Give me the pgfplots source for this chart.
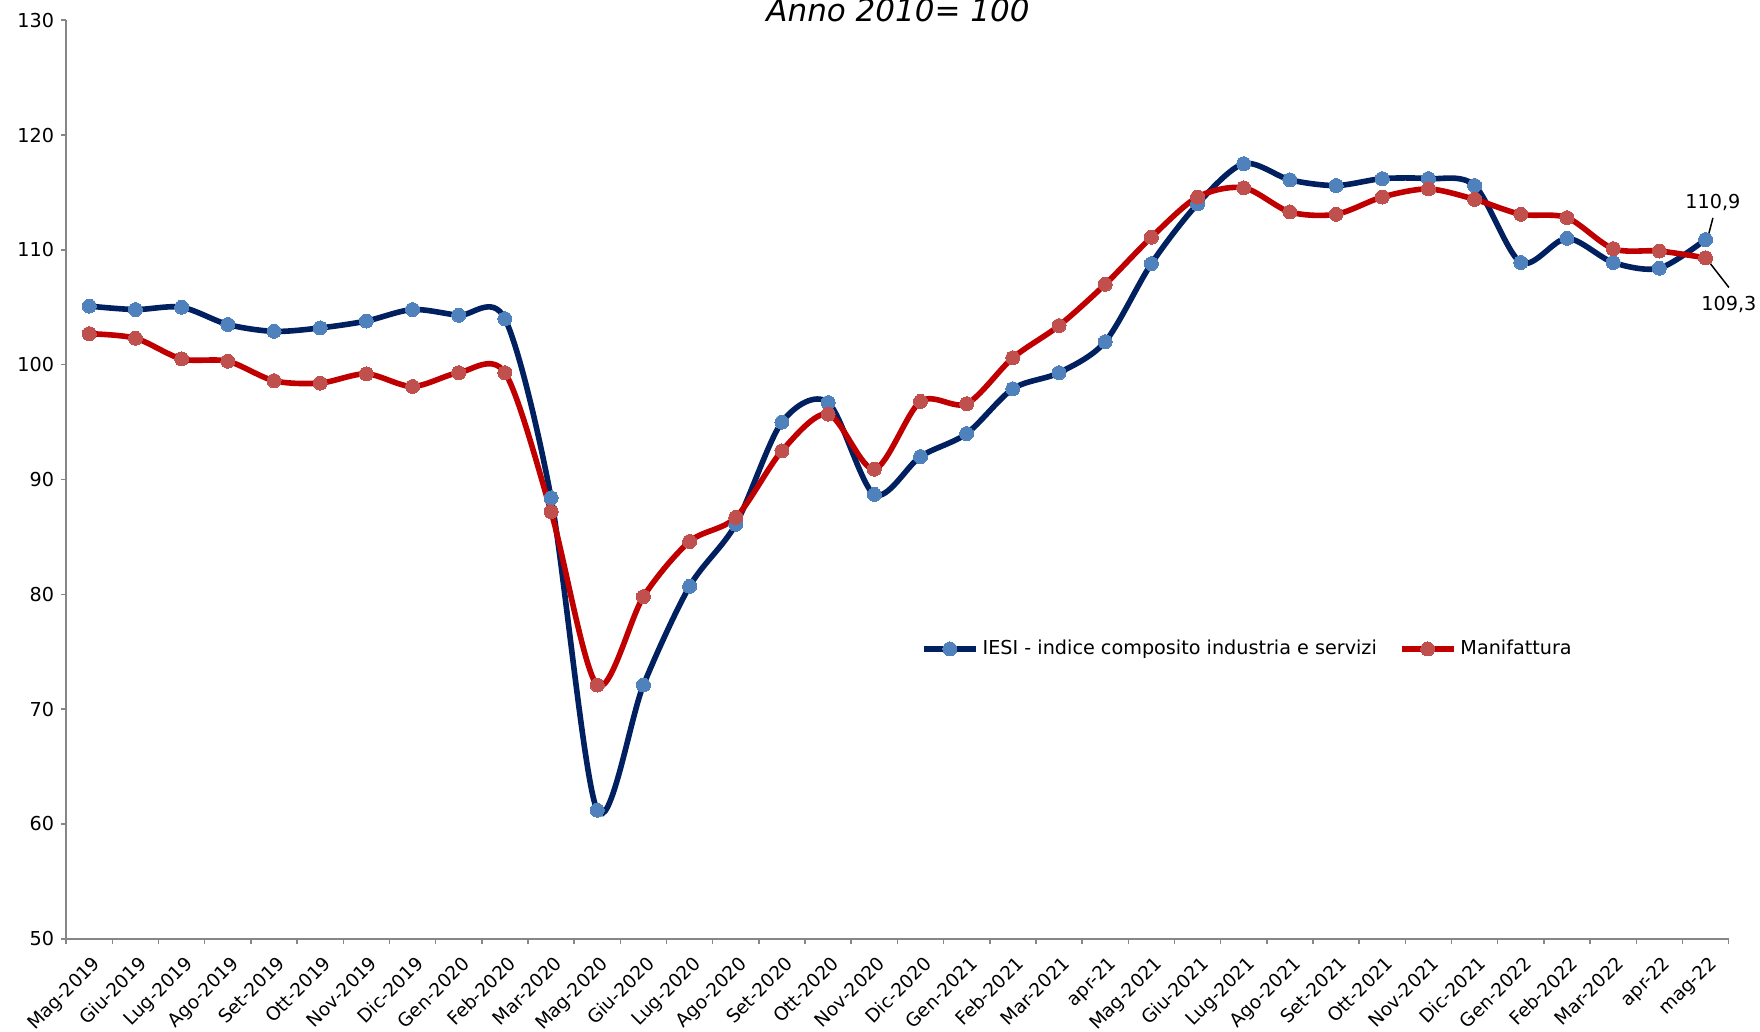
\documentclass[border=0pt]{standalone}
\usepackage{pgfplots}
\pgfplotsset{compat=1.18}
\usepackage{fontspec}
\setmainfont{DejaVu Sans}
\definecolor{blueline}{HTML}{002060}
\definecolor{bluemark}{HTML}{4F81BD}
\definecolor{redline}{HTML}{C00000}
\definecolor{redmark}{HTML}{C0504D}
\definecolor{axisgray}{HTML}{868686}
\newcommand{\tfont}{\fontsize{9.6}{11.5}\selectfont}
\newcommand{\xfont}{\fontsize{9.3}{11}\selectfont}
\begin{document}
\begin{tikzpicture}
\begin{axis}[
  at={(33.1pt,46.6pt)}, anchor=south west,
  scale only axis, width=831.2pt, height=459.3pt,
  xmin=-0.5, xmax=35.5, ymin=50, ymax=130,
  ytick={50,60,...,130},
  xtick={-0.5,0.5,...,35.5},
  x tick label as interval,
  xticklabels={Mag-2019,Giu-2019,Lug-2019,Ago-2019,Set-2019,Ott-2019,Nov-2019,Dic-2019,Gen-2020,Feb-2020,Mar-2020,Mag-2020,Giu-2020,Lug-2020,Ago-2020,Set-2020,Ott-2020,Nov-2020,Dic-2020,Gen-2021,Feb-2021,Mar-2021,apr-21,Mag-2021,Giu-2021,Lug-2021,Ago-2021,Set-2021,Ott-2021,Nov-2021,Dic-2021,Gen-2022,Feb-2022,Mar-2022,apr-22,mag-22},
  axis lines*=left,
  axis line style={draw=axisgray, line width=1pt},
  tick align=outside,
  major tick length=2.5pt,
  tick style={draw=axisgray, line width=0.75pt},
  x tick label style={rotate=45, anchor=north east, font=\xfont, inner sep=1pt, xshift=-2pt, yshift=-3.5pt},
  y tick label style={font=\tfont},
  /pgf/number format/assume math mode=true,
  clip=false,
  legend style={at={(0.514,0.3155)}, anchor=west, draw=none, fill=none, font=\tfont, inner xsep=0pt,
    /tikz/every even column/.append style={column sep=9pt}},
  legend columns=2,
  legend cell align=left,
  legend image code/.code={\draw[mark repeat=2,mark phase=2,#1] plot coordinates {(0pt,0pt) (13pt,0pt) (26pt,0pt)};},
]
\addplot[blueline, line width=2.8pt, smooth, mark=*, mark size=3.5pt,
  mark options={fill=bluemark, draw=bluemark, line width=0pt}] coordinates {
(0,105.1) (1,104.8) (2,105.0) (3,103.5) (4,102.9) (5,103.2) (6,103.8) (7,104.8) (8,104.3) (9,104.0)
(10,88.4) (11,61.2) (12,72.1) (13,80.7) (14,86.1) (15,95.0) (16,96.7) (17,88.7) (18,92.0) (19,94.0)
(20,97.9) (21,99.3) (22,102.0) (23,108.8) (24,114.0) (25,117.5) (26,116.1) (27,115.6) (28,116.2) (29,116.2)
(30,115.6) (31,108.9) (32,111.0) (33,108.9) (34,108.4) (35,110.9)};
\addlegendentry{IESI - indice composito industria e servizi}
\addplot[redline, line width=2.8pt, smooth, mark=*, mark size=3.5pt,
  mark options={fill=redmark, draw=redmark, line width=0pt}] coordinates {
(0,102.7) (1,102.3) (2,100.5) (3,100.3) (4,98.6) (5,98.4) (6,99.2) (7,98.1) (8,99.3) (9,99.3)
(10,87.2) (11,72.1) (12,79.8) (13,84.6) (14,86.7) (15,92.5) (16,95.7) (17,90.9) (18,96.8) (19,96.6)
(20,100.6) (21,103.4) (22,107.0) (23,111.1) (24,114.6) (25,115.4) (26,113.3) (27,113.1) (28,114.6) (29,115.3)
(30,114.4) (31,113.1) (32,112.8) (33,110.1) (34,109.9) (35,109.3)};
\addlegendentry{Manifattura}
\draw[black, line width=0.75pt] ([xshift=1.2pt,yshift=1.3pt]axis cs:35,110.9) -- ([xshift=3.7pt,yshift=10.8pt]axis cs:35,110.9);
\node[font=\tfont, inner sep=0pt] at ([xshift=3.7pt,yshift=18.3pt]axis cs:35,110.9) {110,9};
\draw[black, line width=0.75pt] ([xshift=1.2pt,yshift=-1.3pt]axis cs:35,109.3) -- ([xshift=11.7pt,yshift=-14.8pt]axis cs:35,109.3);
\node[font=\tfont, inner sep=0pt] at ([xshift=11.7pt,yshift=-23.3pt]axis cs:35,109.3) {109,3};
\end{axis}
\node[font=\fontsize{15.5}{18}\selectfont\itshape, anchor=base] at (449pt,505pt) {Anno 2010= 100};
\pgfresetboundingbox
\path[use as bounding box] (0,0) rectangle (880pt,516pt);
\end{tikzpicture}
\end{document}
